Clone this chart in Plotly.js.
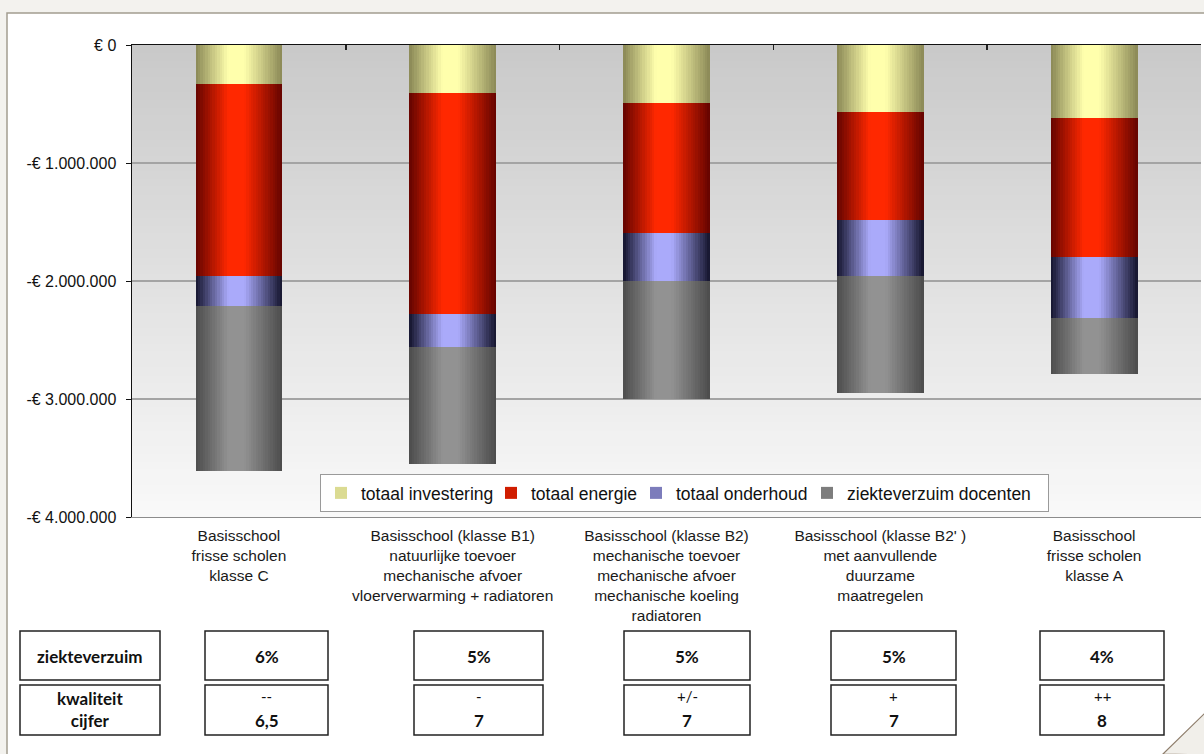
<!DOCTYPE html>
<html>
<head>
<meta charset="utf-8">
<script src="https://cdn.plot.ly/plotly-3.0.1.min.js"></script>
<style>
html,body{margin:0;padding:0;background:#f3f2ee;}
#chart{width:1204px;height:754px;}
</style>
</head>
<body>
<div id="chart"></div>
<script>
// ---------- data ----------
const categories = [
  'Basisschool<br>frisse scholen<br>klasse C',
  'Basisschool (klasse B1)<br>natuurlijke toevoer<br>mechanische afvoer<br>vloerverwarming + radiatoren',
  'Basisschool (klasse B2)<br>mechanische toevoer<br>mechanische afvoer<br>mechanische koeling<br>radiatoren',
  "Basisschool (klasse B2' )<br>met aanvullende<br>duurzame<br>maatregelen",
  'Basisschool<br>frisse scholen<br>klasse A'
];
const seriesNames = ['totaal investering', 'totaal energie', 'totaal onderhoud', 'ziekteverzuim docenten'];
const investering   = [330000, 410000, 490000, 570000, 620000];
const energie       = [1630000, 1870000, 1100000, 910000, 1180000];
const onderhoud     = [250000, 280000, 410000, 480000, 510000];
const ziekteverzuim = [1400000, 990000, 1000000, 990000, 480000];
const yTickValues = [0, -1000000, -2000000, -3000000, -4000000];
const yTickLabels = ['€ 0', '-€ 1.000.000', '-€ 2.000.000', '-€ 3.000.000', '-€ 4.000.000'];
const categoryBoundaries = [0.5, 1.5, 2.5, 3.5];

const tableRowLabels = ['ziekteverzuim', 'kwaliteit<br>cijfer'];
const verzuimPct  = ['6%', '5%', '5%', '5%', '4%'];
const kwaliteit   = ['--', '-', '+/-', '+', '++'];
const cijfer      = ['6,5', '7', '7', '7', '8'];

// ---------- styles / geometry ----------
const FW = 1204, FH = 754;
const ML = 132, MR = 3, MT = 45, MB = 237;
const PW = FW - ML - MR, PH = FH - MT - MB;
const px = x => (x - ML) / PW;
const py = y => (FH - MB - y) / PH;

const shades = [
  {dark: [138, 136, 86],  light: [255, 255, 172]},
  {dark: [100, 4, 0],     light: [255, 40, 0]},
  {dark: [20, 20, 44],    light: [170, 170, 250]},
  {dark: [76, 76, 76],    light: [146, 146, 146]}
];
const legendWidths = [125, 100, 126, 196];
const BW = 0.405;   // bar width in category units
const NS = 36;      // strips per bar for cylinder shading

function profile(u) {
  if (u < 0.38) return u / 0.38;
  if (u > 0.56) return (1 - u) / 0.44;
  return 1;
}
function mix(a, b, t) {
  return 'rgb(' + a.map((v, i) => Math.round(v + (b[i] - v) * t)).join(',') + ')';
}

const seriesValues = [investering, energie, onderhoud, ziekteverzuim];
const traces = [];
let cum = categories.map(() => 0);
seriesValues.forEach((vals, s) => {
  const baseArr = cum.map(c => -c);
  const yArr = vals.map(v => -v);
  let legendK = 0, best = 9;
  for (let k = 0; k < NS; k++) {
    const u = (k + 0.5) / NS;
    const f = profile(u);
    if (u < 0.5 && Math.abs(f - 0.7) < best) { best = Math.abs(f - 0.7); legendK = k; }
  }
  for (let k = 0; k < NS; k++) {
    const u = (k + 0.5) / NS;
    traces.push({
      type: 'bar',
      x: categories,
      y: yArr,
      base: baseArr,
      width: BW / NS * 1.1,
      offset: -BW / 2 + k * BW / NS,
      marker: {color: mix(shades[s].dark, shades[s].light, profile(u)), line: {width: 0}},
      name: seriesNames[s],
      legendgroup: seriesNames[s],
      showlegend: k === legendK,
      legendwidth: legendWidths[s],
      hoverinfo: 'skip'
    });
  }
  cum = cum.map((c, i) => c + vals[i]);
});
// carrier for the top category-boundary axis
traces.push({type: 'scatter', x: [categoryBoundaries[0]], y: [0], xaxis: 'x2', yaxis: 'y',
  mode: 'markers', marker: {size: 1, opacity: 0}, showlegend: false, hoverinfo: 'skip'});

// ---------- shapes ----------
const shapes = [];
shapes.push({type: 'rect', xref: 'paper', yref: 'paper', layer: 'below',
  x0: px(7), x1: px(1220), y0: py(13), y1: py(770),
  fillcolor: '#ffffff', line: {color: '#a39d90', width: 1.5}});
const NB = 60;
for (let i = 0; i < NB; i++) {
  const t = (i + 0.5) / NB;
  const g = Math.round(249 - (249 - 201) * t);
  shapes.push({type: 'rect', xref: 'paper', yref: 'paper', layer: 'below',
    x0: 0, x1: 1, y0: i / NB, y1: (i + 1) / NB + 0.002,
    fillcolor: 'rgb(' + g + ',' + g + ',' + g + ')', line: {width: 0}});
}
const labelBox = [20, 160];
const colBoxes = [[205, 328], [414, 543], [624, 750], [831, 956], [1040, 1164]];
const rows = [[631, 680], [685, 735]];
const boxLine = {color: '#222222', width: 1.5};
[labelBox].concat(colBoxes).forEach(b => {
  rows.forEach(r => {
    shapes.push({type: 'rect', xref: 'paper', yref: 'paper', layer: 'above',
      x0: px(b[0]), x1: px(b[1]), y0: py(r[0]), y1: py(r[1]),
      fillcolor: '#ffffff', line: boxLine});
  });
});
shapes.push({type: 'path', xref: 'paper', yref: 'paper', layer: 'above',
  path: 'M' + px(1163) + ',' + py(754) + ' L' + px(1205) + ',' + py(713) + ' L' + px(1205) + ',' + py(755) + ' Z',
  fillcolor: '#f1efea', line: {color: '#8f7e6c', width: 1.2}});

// ---------- annotations ----------
const annotations = [];
const tFont = {family: 'Lato, "Open Sans", sans-serif', size: 17, color: '#111111'};
const tFontSmall = {family: 'Lato, "Open Sans", sans-serif', size: 15, color: '#111111'};
annotations.push({xref: 'paper', yref: 'paper', x: px(90), y: py(656), text: '<b>' + tableRowLabels[0] + '</b>',
  showarrow: false, font: tFont, xanchor: 'center', yanchor: 'middle'});
annotations.push({xref: 'paper', yref: 'paper', x: px(90), y: py(709), text: '<b>' + tableRowLabels[1] + '</b>',
  showarrow: false, font: tFont, xanchor: 'center', yanchor: 'middle'});
colBoxes.forEach((b, i) => {
  const cx = px((b[0] + b[1]) / 2);
  annotations.push({xref: 'paper', yref: 'paper', x: cx, y: py(656), text: '<b>' + verzuimPct[i] + '</b>',
    showarrow: false, font: tFont, xanchor: 'center', yanchor: 'middle'});
  annotations.push({xref: 'paper', yref: 'paper', x: cx, y: py(696), text: kwaliteit[i],
    showarrow: false, font: tFontSmall, xanchor: 'center', yanchor: 'middle'});
  annotations.push({xref: 'paper', yref: 'paper', x: cx, y: py(720), text: '<b>' + cijfer[i] + '</b>',
    showarrow: false, font: tFont, xanchor: 'center', yanchor: 'middle'});
});

const axFont = {family: '"Liberation Sans", Arial, sans-serif', size: 16, color: '#111111'};

const layout = {
  width: FW, height: FH,
  margin: {l: ML, r: MR, t: MT, b: MB, pad: 0},
  paper_bgcolor: '#f3f2ee',
  plot_bgcolor: 'rgba(0,0,0,0)',
  barmode: 'overlay',
  bargap: 0,
  showlegend: true,
  legend: {
    orientation: 'h', x: px(320), y: py(474), xanchor: 'left', yanchor: 'top',
    bgcolor: '#ffffff', bordercolor: '#9a9a9a', borderwidth: 1,
    font: {family: '"Liberation Sans", Arial, sans-serif', size: 17.5, color: '#111111'},
    traceorder: 'normal'
  },
  xaxis: {
    type: 'category', range: [-0.5, 4.5],
    showgrid: false, zeroline: false,
    showline: true, linecolor: '#8c8c8c', linewidth: 1,
    ticks: '', ticklabelstandoff: 4,
    tickfont: {family: '"Liberation Sans", Arial, sans-serif', size: 15.5, color: '#1a1a1a'},
    fixedrange: true
  },
  xaxis2: {
    overlaying: 'x', side: 'top', anchor: 'y', type: 'linear', range: [-0.5, 4.5],
    tickvals: categoryBoundaries, ticks: 'inside', ticklen: 5, tickcolor: '#222222', tickwidth: 1.5,
    showticklabels: false, showgrid: false, zeroline: false,
    showline: true, linecolor: '#111111', linewidth: 1.5, fixedrange: true
  },
  yaxis: {
    range: [-4000000, 0], tickvals: yTickValues, ticktext: yTickLabels,
    ticks: 'outside', ticklen: 5, tickcolor: '#111111', tickwidth: 1,
    ticklabelstandoff: 6,
    showline: true, linecolor: '#111111', linewidth: 1.5,
    showgrid: true, gridcolor: '#a4a4a4', gridwidth: 1.2,
    zeroline: false, tickfont: axFont, fixedrange: true
  },
  shapes: shapes,
  annotations: annotations
};

Plotly.newPlot('chart', traces, layout, {displayModeBar: false, staticPlot: true});
</script>
</body>
</html>
